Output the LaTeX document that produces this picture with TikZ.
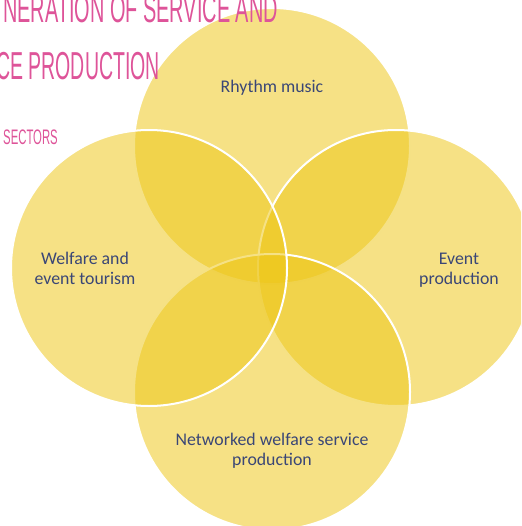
\documentclass[tikz,border=0pt]{standalone}
\usepackage{fontspec}
\setmainfont{Carlito}
\newfontfamily\titlefont{Liberation Sans}
\definecolor{venn}{RGB}{237,198,22}
\definecolor{labelblue}{RGB}{58,70,118}
\definecolor{titlepink}{RGB}{222,84,153}
\tikzset{
  venncircle/.style={fill=venn, fill opacity=0.52, draw=white, line width=2pt},
  vennlabel/.style={text=labelblue, align=center, inner sep=0pt,
    font=\fontsize{17.8}{20}\selectfont},
  titletext/.style={text=titlepink, inner sep=0pt}
}
\begin{document}
\begin{tikzpicture}[x=1pt,y=-1pt]
\useasboundingbox (0,0) rectangle (521,526);
\clip (0,0) rectangle (521,526);
% circles, back to front
\filldraw[venncircle] (272,146) circle[radius=138];
\filldraw[venncircle] (396,268) circle[radius=138];
\filldraw[venncircle] (272,392) circle[radius=138];
\filldraw[venncircle] (149,268) circle[radius=138];
% labels
\node[vennlabel] (rhythm) at (272,88) {Rhythm music};
\node[vennlabel] (welfare) at (85,268.5) {Welfare and\\event tourism};
\node[vennlabel] (event) at (459,270) {Event\\production};
\node[vennlabel] (networked) at (272,451) {Networked welfare service\\production};
% title
\node[titletext, anchor=base east] (title1) at (278,23)
  {\scalebox{0.51}[1]{\titlefont\fontsize{39}{39}\selectfont NERATION OF SERVICE AND}};
\node[titletext, anchor=base east] (title2) at (160,80)
  {\scalebox{0.5}[1]{\titlefont\fontsize{39}{39}\selectfont CE PRODUCTION}};
\node[titletext, anchor=base west] (sectors) at (3,145)
  {\scalebox{0.54}[1]{\titlefont\fontsize{21}{21}\selectfont SECTORS}};
\end{tikzpicture}
\end{document}
